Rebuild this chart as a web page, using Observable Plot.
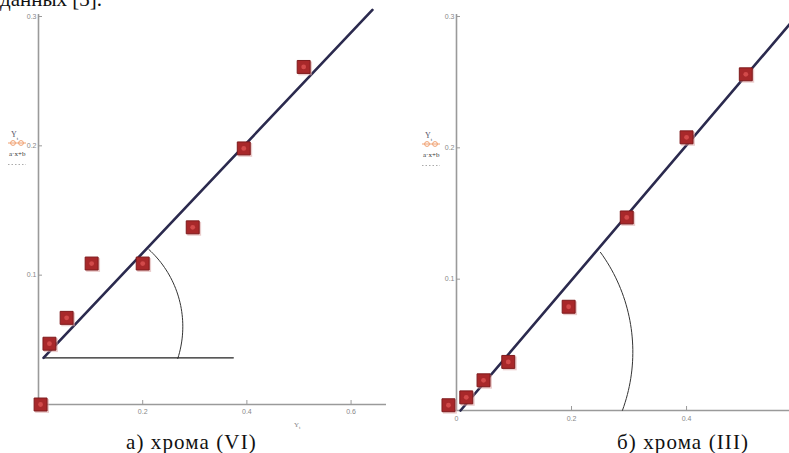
<!DOCTYPE html>
<html>
<head>
<meta charset="utf-8">
<script src="https://cdn.jsdelivr.net/npm/d3@7"></script>
<script src="https://cdn.jsdelivr.net/npm/@observablehq/plot@0.6"></script>
<style>
  html, body { margin: 0; padding: 0; background: #fff; }
  #page { position: relative; width: 789px; height: 453px; overflow: hidden; background: #fff; }
  .abs { position: absolute; white-space: nowrap; }
  .serif { font-family: "Liberation Serif", "DejaVu Serif", serif; color: #111; }
  .leg { font-family: "Liberation Serif", serif; font-size: 8px; color: #556; line-height: 8px; }
  svg { overflow: visible; }
</style>
</head>
<body>
<div id="page"></div>
<script>
// ---- data ----
// panel a) chromium (VI)
const leftX = [0.004, 0.021, 0.054, 0.102, 0.200, 0.296, 0.394, 0.509];
const leftY = [0.000, 0.047, 0.067, 0.109, 0.109, 0.137, 0.198, 0.261];
const leftFitAB = [0.426, 0.032];        // a, b of a·x+b
const leftFitRange = [0.0096, 0.641];
const leftBaseRange = [0.0096, 0.374];   // horizontal reference line
const leftXTicks = [0.2, 0.4, 0.6];
const leftXTickLabels = ["0.2", "0.4", "0.6"];
const leftYTicks = [0.1, 0.2, 0.3];
const leftYTickLabels = ["0.1", "0.2", "0.3"];
// angle arc: centre (x,y), radii (rx, ry), angles in degrees
const leftArc = [0.076, 0.0603, 0.201, 0.0808, -17.8, 47.5];

// panel б) chromium (III)
const rightX = [-0.014, 0.017, 0.047, 0.090, 0.195, 0.296, 0.400, 0.503];
const rightY = [0.004, 0.010, 0.023, 0.037, 0.079, 0.147, 0.208, 0.256];
const rightFitAB = [0.514, -0.0036];
const rightFitRange = [0.007, 0.579];
const rightXTicks = [0, 0.2, 0.4];
const rightXTickLabels = ["0", "0.2", "0.4"];
const rightYTicks = [0.1, 0.2, 0.3];
const rightYTickLabels = ["0.1", "0.2", "0.3"];
const rightArc = [0.012, 0.0446, 0.2946, 0.1290, -20.2, 36];

const captions = ["а) хрома (VI)", "б) хрома (III)"];
const topText = "данных [3].";
const legendSeries = "Y";
const legendFit = "a·x+b";

function arcPoints(arc) {
  const [cx, cy, rx, ry, a0, a1] = arc;
  return d3.range(0, 41).map(i => {
    const t = (a0 + (a1 - a0) * i / 40) * Math.PI / 180;
    return {x: cx + rx * Math.cos(t), y: cy + ry * Math.sin(t)};
  });
}

function panel(o) {
  const pts = o.xs.map((x, i) => ({x, y: o.ys[i]}));
  const [a, b] = o.ab;
  const fit = o.fitRange.map(x => ({x, y: a * x + b}));
  const pxX = (o.width - o.marginLeft - o.marginRight) / (o.xDomain[1] - o.xDomain[0]);
  const pxY = (o.height - o.marginTop - o.marginBottom) / 0.3;
  const axisCol = "#9a9a9a";
  const marks = [
    Plot.ruleX([0], {y1: 0, y2: 0.3 + 2 / pxY, stroke: axisCol, strokeWidth: 1.6}),
    Plot.ruleY([0], {x1: o.xDomain[0] - 1 / pxX, x2: o.xDomain[1], stroke: axisCol, strokeWidth: 1.6}),
    Plot.ruleX(o.xTicks.filter(d => d !== 0), {x: d => d, y1: 0, y2: 4 / pxY, stroke: axisCol, strokeWidth: 1}),
    Plot.ruleY(o.yTicks, {y: d => d, x1: 0, x2: 4 / pxX, stroke: axisCol, strokeWidth: 1}),
    Plot.text(o.xTicks, {x: d => d, y: 0, dy: o.xLabelDy, text: (d, i) => o.xTickLabels[i], fontSize: 7, fill: "#888", fontFamily: "Liberation Sans"}),
    Plot.text(o.yTicks, {x: 0, y: d => d, dx: -2, textAnchor: "end", text: (d, i) => o.yTickLabels[i], fontSize: 7, fill: "#888", fontFamily: "Liberation Sans"}),
    Plot.line(arcPoints(o.arc), {x: "x", y: "y", stroke: "#333", strokeWidth: 1, curve: "linear"})
  ];
  if (o.baseRange) {
    marks.push(Plot.line(o.baseRange.map(x => ({x, y: a * o.baseRange[0] + b})), {x: "x", y: "y", stroke: "#222", strokeWidth: 1.2}));
  }
  marks.push(
    Plot.line(fit, {x: "x", y: "y", stroke: "#2b2a4e", strokeWidth: 2.6}),
    Plot.dot(pts, {x: "x", y: "y", symbol: "square", r: 7.8, fill: "#d9a3a3", fillOpacity: 0.55, dx: 1.5, dy: 1.5}),
    Plot.dot(pts, {x: "x", y: "y", symbol: "square", r: 7.3, fill: "#a8282a", stroke: "#7e1a1c", strokeWidth: 1}),
    Plot.dot(pts, {x: "x", y: "y", r: 2.4, fill: "#d24a4a"})
  );
  return Plot.plot({
    width: o.width, height: o.height,
    marginLeft: o.marginLeft, marginRight: o.marginRight,
    marginTop: o.marginTop, marginBottom: o.marginBottom,
    x: {domain: o.xDomain, axis: null},
    y: {domain: [0, 0.3], axis: null},
    style: {background: "transparent", overflow: "visible"},
    marks
  });
}

const page = document.getElementById("page");

const left = panel({
  xs: leftX, ys: leftY, ab: leftFitAB, fitRange: leftFitRange, baseRange: leftBaseRange,
  xTicks: leftXTicks, xTickLabels: leftXTickLabels, yTicks: leftYTicks, yTickLabels: leftYTickLabels,
  arc: leftArc, xDomain: [0, 0.668], xLabelDy: 7,
  width: 390, height: 420, marginLeft: 38, marginRight: 4, marginTop: 16, marginBottom: 16
});
left.style.position = "absolute"; left.style.left = "0px"; left.style.top = "0px";
page.appendChild(left);

const right = panel({
  xs: rightX, ys: rightY, ab: rightFitAB, fitRange: rightFitRange, baseRange: null,
  xTicks: rightXTicks, xTickLabels: rightXTickLabels, yTicks: rightYTicks, yTickLabels: rightYTickLabels,
  arc: rightArc, xDomain: [0, 0.579], xLabelDy: 8,
  width: 389, height: 426, marginLeft: 56, marginRight: 0, marginTop: 16, marginBottom: 16
});
right.style.position = "absolute"; right.style.left = "400px"; right.style.top = "0px";
page.appendChild(right);

function addDiv(html, cls, css) {
  const d = document.createElement("div");
  d.className = "abs " + cls;
  d.innerHTML = html;
  Object.assign(d.style, css);
  page.appendChild(d);
  return d;
}

// partial text of the document above the figure
addDiv(topText, "serif", {left: "0px", top: "-11px", fontSize: "21px", lineHeight: "20px"});

// captions
addDiv(captions[0], "serif", {left: "126px", top: "432px", fontSize: "21px", lineHeight: "20px", letterSpacing: "1.1px"});
addDiv(captions[1], "serif", {left: "617px", top: "432px", fontSize: "21px", lineHeight: "20px", letterSpacing: "1.1px"});

// small axis label under left panel
addDiv("Y<sub style='font-size:5px'>t</sub>", "leg", {left: "294px", top: "421px", fontSize: "7px", color: "#888"});

// legends
function legend(x, y) {
  addDiv(legendSeries + "<sub style='font-size:5px'>t</sub>", "leg", {left: x + 3 + "px", top: y + "px"});
  addDiv("<svg width='18' height='6'><line x1='0' y1='3' x2='18' y2='3' stroke='#f0a070' stroke-width='1'/><circle cx='5' cy='3' r='2.4' fill='none' stroke='#f0a070'/><circle cx='13' cy='3' r='2.4' fill='none' stroke='#f0a070'/></svg>", "leg", {left: x + "px", top: y + 9 + "px"});
  addDiv(legendFit, "leg", {left: x + 1 + "px", top: y + 19 + "px", fontSize: "7px", color: "#333"});
  addDiv("<svg width='18' height='3'><line x1='0' y1='1.5' x2='18' y2='1.5' stroke='#aaa' stroke-width='1' stroke-dasharray='1.5,2'/></svg>", "leg", {left: x + "px", top: y + 29 + "px"});
}
legend(8, 131);
legend(422, 132);
</script>
</body>
</html>
